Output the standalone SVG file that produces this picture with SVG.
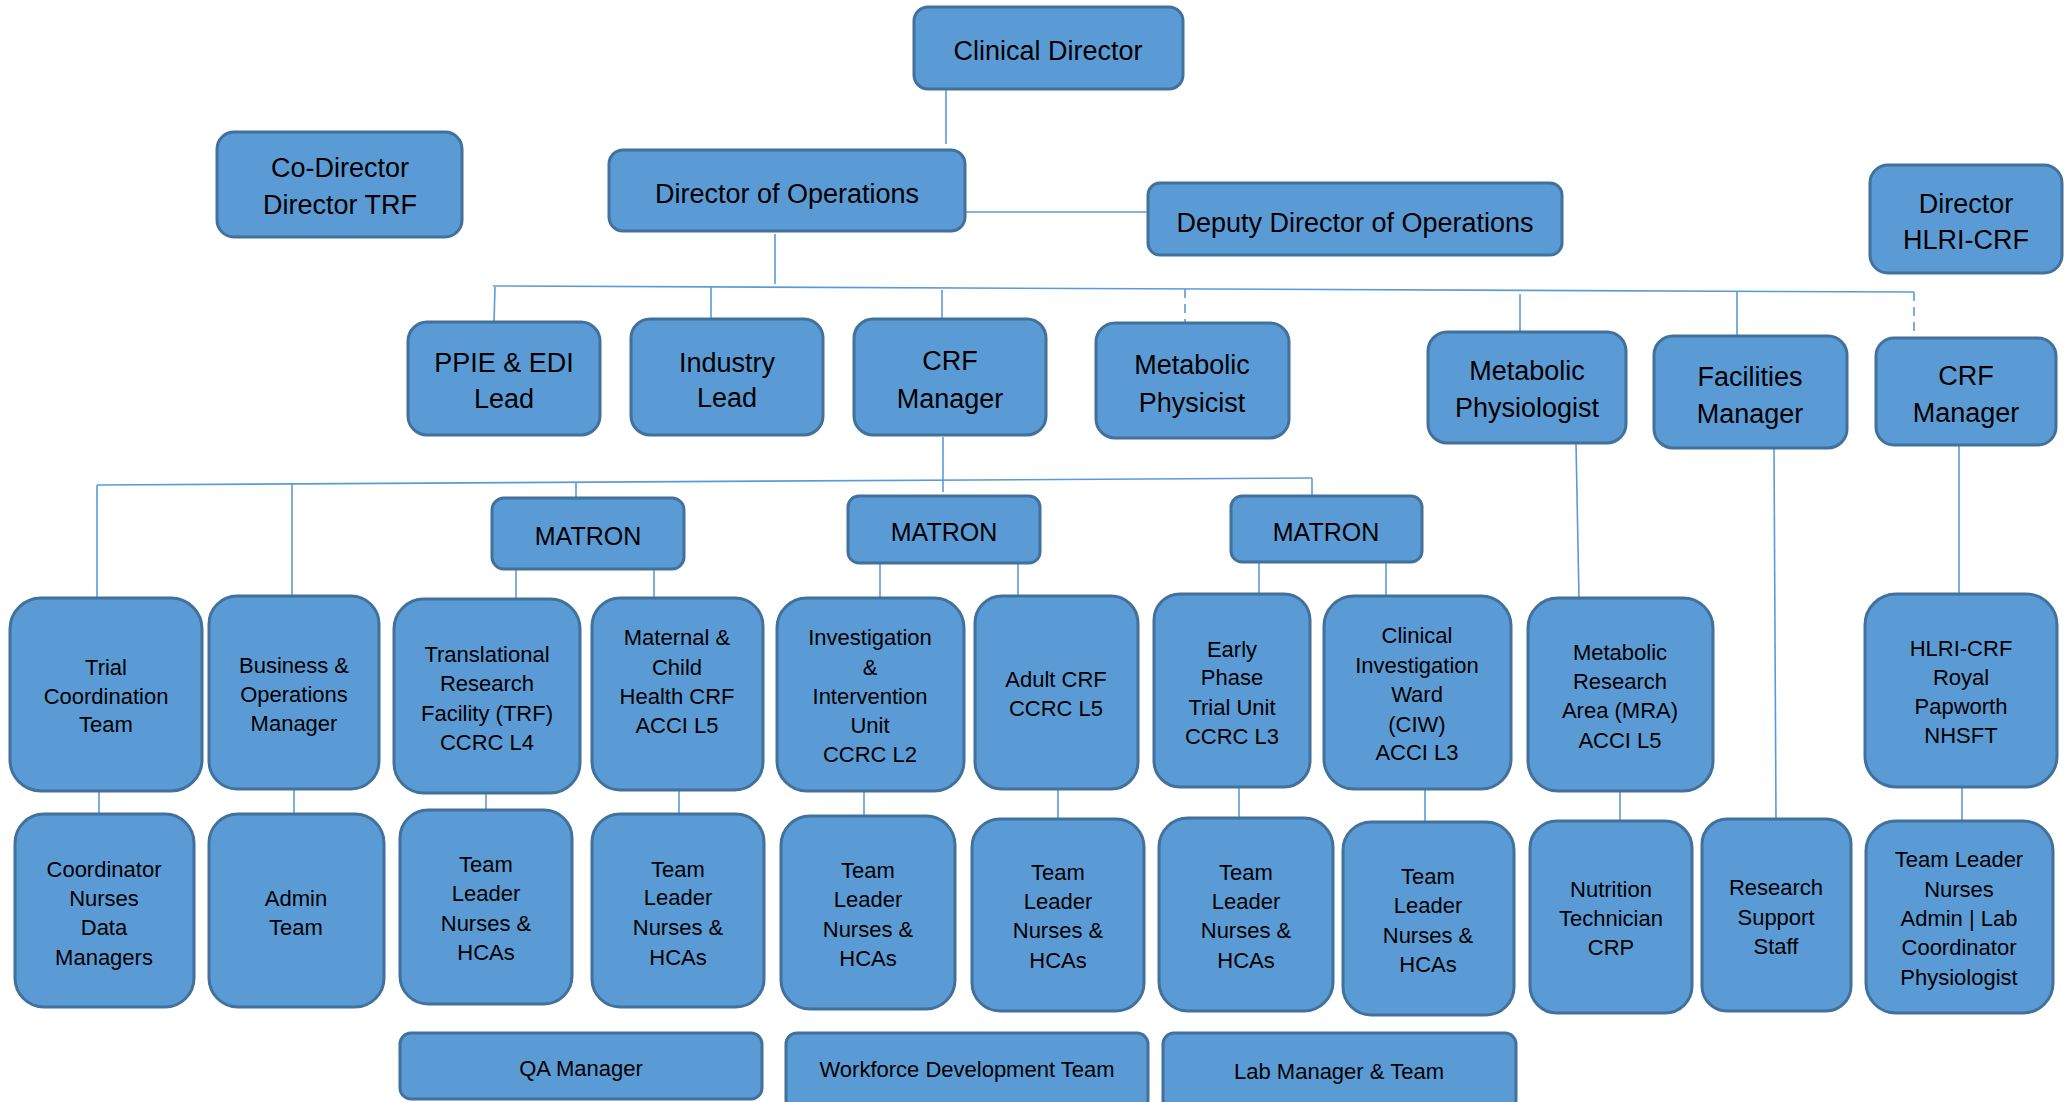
<svg xmlns="http://www.w3.org/2000/svg" width="2066" height="1102" viewBox="0 0 2066 1102">
<style>
.bg{fill:#ffffff}
.n rect{fill:#5B9BD5;stroke:#41719C;stroke-width:3}
.n text{font-family:"Liberation Sans",Arial,sans-serif;fill:#000;text-anchor:middle}
.L text{font-size:27px}
.M text{font-size:25px}
.S text{font-size:22px}
#connectors line{stroke:#5B9BD5;stroke-width:1.6;fill:none}
#connectors line.d{stroke-dasharray:9 6}
</style>
<rect class="bg" x="0" y="0" width="2066" height="1102"/>
<g id="connectors">
<line x1="946" y1="89" x2="946" y2="144"/>
<line x1="775" y1="234" x2="775" y2="284"/>
<line x1="965" y1="212" x2="1148" y2="212"/>
<line x1="493" y1="286" x2="1914" y2="292"/>
<line x1="495" y1="287" x2="494" y2="322"/>
<line x1="711" y1="287" x2="711" y2="319"/>
<line x1="942" y1="290" x2="942" y2="319"/>
<line class="d" x1="1185" y1="289" x2="1185" y2="323"/>
<line x1="1520" y1="294" x2="1520" y2="332"/>
<line x1="1737" y1="291" x2="1737" y2="336"/>
<line class="d" x1="1914" y1="292" x2="1914" y2="338"/>
<line x1="943" y1="437" x2="943" y2="492"/>
<line x1="97" y1="485" x2="1312" y2="478"/>
<line x1="97" y1="485" x2="97" y2="598"/>
<line x1="292" y1="484" x2="292" y2="596"/>
<line x1="576" y1="482" x2="576" y2="498"/>
<line x1="1312" y1="478" x2="1312" y2="496"/>
<line x1="516" y1="569" x2="516" y2="599"/>
<line x1="654" y1="569" x2="654" y2="598"/>
<line x1="880" y1="563" x2="880" y2="598"/>
<line x1="1018" y1="563" x2="1018" y2="596"/>
<line x1="1259" y1="562" x2="1259" y2="594"/>
<line x1="1386" y1="562" x2="1386" y2="596"/>
<line x1="1576" y1="443" x2="1579" y2="598"/>
<line x1="1774" y1="448" x2="1776" y2="819"/>
<line x1="1959" y1="445" x2="1959" y2="594"/>
<line x1="99" y1="791" x2="99" y2="814"/>
<line x1="294" y1="789" x2="294" y2="814"/>
<line x1="486" y1="793" x2="486" y2="810"/>
<line x1="679" y1="790" x2="679" y2="814"/>
<line x1="864" y1="791" x2="864" y2="816"/>
<line x1="1058" y1="789" x2="1058" y2="819"/>
<line x1="1239" y1="787" x2="1239" y2="818"/>
<line x1="1425" y1="789" x2="1425" y2="822"/>
<line x1="1620" y1="791" x2="1620" y2="821"/>
<line x1="1962" y1="787" x2="1962" y2="821"/>
</g>
<g id="clinical-director" class="n L"><rect x="914" y="7" width="269" height="82" rx="14"/><text x="1048" y="60">Clinical Director</text></g>
<g id="co-director" class="n L"><rect x="217" y="132" width="245" height="105" rx="17"/><text x="340" y="177">Co-Director</text><text x="340" y="214">Director TRF</text></g>
<g id="director-ops" class="n L"><rect x="609" y="150" width="356" height="81" rx="14"/><text x="787" y="203">Director of Operations</text></g>
<g id="deputy-director" class="n L"><rect x="1148" y="183" width="414" height="72" rx="12"/><text x="1355" y="232">Deputy Director of Operations</text></g>
<g id="director-hlri" class="n L"><rect x="1870" y="165" width="192" height="108" rx="18"/><text x="1966" y="213">Director</text><text x="1966" y="249">HLRI-CRF</text></g>
<g id="ppie" class="n L"><rect x="408" y="322" width="192" height="113" rx="19"/><text x="504" y="372">PPIE &amp; EDI</text><text x="504" y="408">Lead</text></g>
<g id="industry" class="n L"><rect x="631" y="319" width="192" height="116" rx="19"/><text x="727" y="372">Industry</text><text x="727" y="407">Lead</text></g>
<g id="crf-manager" class="n L"><rect x="854" y="319" width="192" height="116" rx="19"/><text x="950" y="370">CRF</text><text x="950" y="408">Manager</text></g>
<g id="met-physicist" class="n L"><rect x="1096" y="323" width="193" height="115" rx="19"/><text x="1192" y="374">Metabolic</text><text x="1192" y="412">Physicist</text></g>
<g id="met-physiologist" class="n L"><rect x="1428" y="332" width="198" height="111" rx="19"/><text x="1527" y="380">Metabolic</text><text x="1527" y="417">Physiologist</text></g>
<g id="facilities" class="n L"><rect x="1654" y="336" width="193" height="112" rx="19"/><text x="1750" y="386">Facilities</text><text x="1750" y="423">Manager</text></g>
<g id="crf-manager-r" class="n L"><rect x="1876" y="338" width="180" height="107" rx="18"/><text x="1966" y="385">CRF</text><text x="1966" y="422">Manager</text></g>
<g id="matron1" class="n M"><rect x="492" y="498" width="192" height="71" rx="12"/><text x="588" y="545">MATRON</text></g>
<g id="matron2" class="n M"><rect x="848" y="496" width="192" height="67" rx="11"/><text x="944" y="541">MATRON</text></g>
<g id="matron3" class="n M"><rect x="1231" y="496" width="191" height="66" rx="11"/><text x="1326" y="541">MATRON</text></g>
<g id="trial" class="n S"><rect x="10" y="598" width="192" height="193" rx="31"/><text x="106" y="675">Trial</text><text x="106" y="704">Coordination</text><text x="106" y="732">Team</text></g>
<g id="business" class="n S"><rect x="209" y="596" width="170" height="193" rx="28"/><text x="294" y="673">Business &amp;</text><text x="294" y="702">Operations</text><text x="294" y="731">Manager</text></g>
<g id="trf" class="n S"><rect x="394" y="599" width="186" height="194" rx="30"/><text x="487" y="662">Translational</text><text x="487" y="691">Research</text><text x="487" y="721">Facility (TRF)</text><text x="487" y="750">CCRC L4</text></g>
<g id="maternal" class="n S"><rect x="592" y="598" width="171" height="192" rx="28"/><text x="677" y="645">Maternal &amp;</text><text x="677" y="675">Child</text><text x="677" y="704">Health CRF</text><text x="677" y="733">ACCI L5</text></g>
<g id="investigation" class="n S"><rect x="777" y="598" width="187" height="193" rx="30"/><text x="870" y="645">Investigation</text><text x="870" y="675">&amp;</text><text x="870" y="704">Intervention</text><text x="870" y="733">Unit</text><text x="870" y="762">CCRC L2</text></g>
<g id="adult" class="n S"><rect x="975" y="596" width="163" height="193" rx="27"/><text x="1056" y="687">Adult CRF</text><text x="1056" y="716">CCRC L5</text></g>
<g id="early" class="n S"><rect x="1154" y="594" width="156" height="193" rx="26"/><text x="1232" y="657">Early</text><text x="1232" y="685">Phase</text><text x="1232" y="715">Trial Unit</text><text x="1232" y="744">CCRC L3</text></g>
<g id="ciw" class="n S"><rect x="1324" y="596" width="187" height="193" rx="30"/><text x="1417" y="643">Clinical</text><text x="1417" y="673">Investigation</text><text x="1417" y="702">Ward</text><text x="1417" y="732">(CIW)</text><text x="1417" y="760">ACCI L3</text></g>
<g id="mra" class="n S"><rect x="1528" y="598" width="185" height="193" rx="30"/><text x="1620" y="660">Metabolic</text><text x="1620" y="689">Research</text><text x="1620" y="718">Area (MRA)</text><text x="1620" y="748">ACCI L5</text></g>
<g id="hlri" class="n S"><rect x="1865" y="594" width="192" height="193" rx="31"/><text x="1961" y="656">HLRI-CRF</text><text x="1961" y="685">Royal</text><text x="1961" y="714">Papworth</text><text x="1961" y="743">NHSFT</text></g>
<g id="coordinator" class="n S"><rect x="15" y="814" width="179" height="193" rx="29"/><text x="104" y="877">Coordinator</text><text x="104" y="906">Nurses</text><text x="104" y="935">Data</text><text x="104" y="965">Managers</text></g>
<g id="admin" class="n S"><rect x="209" y="814" width="175" height="193" rx="29"/><text x="296" y="906">Admin</text><text x="296" y="935">Team</text></g>
<g id="trf-team" class="n S"><rect x="400" y="810" width="172" height="194" rx="28"/><text x="486" y="872">Team</text><text x="486" y="901">Leader</text><text x="486" y="931">Nurses &amp;</text><text x="486" y="960">HCAs</text></g>
<g id="maternal-team" class="n S"><rect x="592" y="814" width="172" height="193" rx="28"/><text x="678" y="877">Team</text><text x="678" y="905">Leader</text><text x="678" y="935">Nurses &amp;</text><text x="678" y="965">HCAs</text></g>
<g id="investigation-team" class="n S"><rect x="781" y="816" width="174" height="193" rx="29"/><text x="868" y="878">Team</text><text x="868" y="907">Leader</text><text x="868" y="937">Nurses &amp;</text><text x="868" y="966">HCAs</text></g>
<g id="adult-team" class="n S"><rect x="972" y="819" width="172" height="192" rx="28"/><text x="1058" y="880">Team</text><text x="1058" y="909">Leader</text><text x="1058" y="938">Nurses &amp;</text><text x="1058" y="968">HCAs</text></g>
<g id="early-team" class="n S"><rect x="1159" y="818" width="174" height="193" rx="29"/><text x="1246" y="880">Team</text><text x="1246" y="909">Leader</text><text x="1246" y="938">Nurses &amp;</text><text x="1246" y="968">HCAs</text></g>
<g id="ciw-team" class="n S"><rect x="1343" y="822" width="171" height="193" rx="28"/><text x="1428" y="884">Team</text><text x="1428" y="913">Leader</text><text x="1428" y="943">Nurses &amp;</text><text x="1428" y="972">HCAs</text></g>
<g id="nutrition" class="n S"><rect x="1530" y="821" width="162" height="192" rx="27"/><text x="1611" y="897">Nutrition</text><text x="1611" y="926">Technician</text><text x="1611" y="955">CRP</text></g>
<g id="research-support" class="n S"><rect x="1702" y="819" width="149" height="192" rx="25"/><text x="1776" y="895">Research</text><text x="1776" y="925">Support</text><text x="1776" y="954">Staff</text></g>
<g id="hlri-team" class="n S"><rect x="1866" y="821" width="187" height="192" rx="30"/><text x="1959" y="867">Team Leader</text><text x="1959" y="897">Nurses</text><text x="1959" y="926">Admin | Lab</text><text x="1959" y="955">Coordinator</text><text x="1959" y="985">Physiologist</text></g>
<g id="qa" class="n S"><rect x="400" y="1033" width="362" height="66" rx="11"/><text x="581" y="1076">QA Manager</text></g>
<g id="workforce" class="n S"><rect x="786" y="1033" width="362" height="78" rx="11"/><text x="967" y="1077">Workforce Development Team</text></g>
<g id="lab" class="n S"><rect x="1163" y="1033" width="353" height="78" rx="11"/><text x="1339" y="1079">Lab Manager &amp; Team</text></g>
</svg>
